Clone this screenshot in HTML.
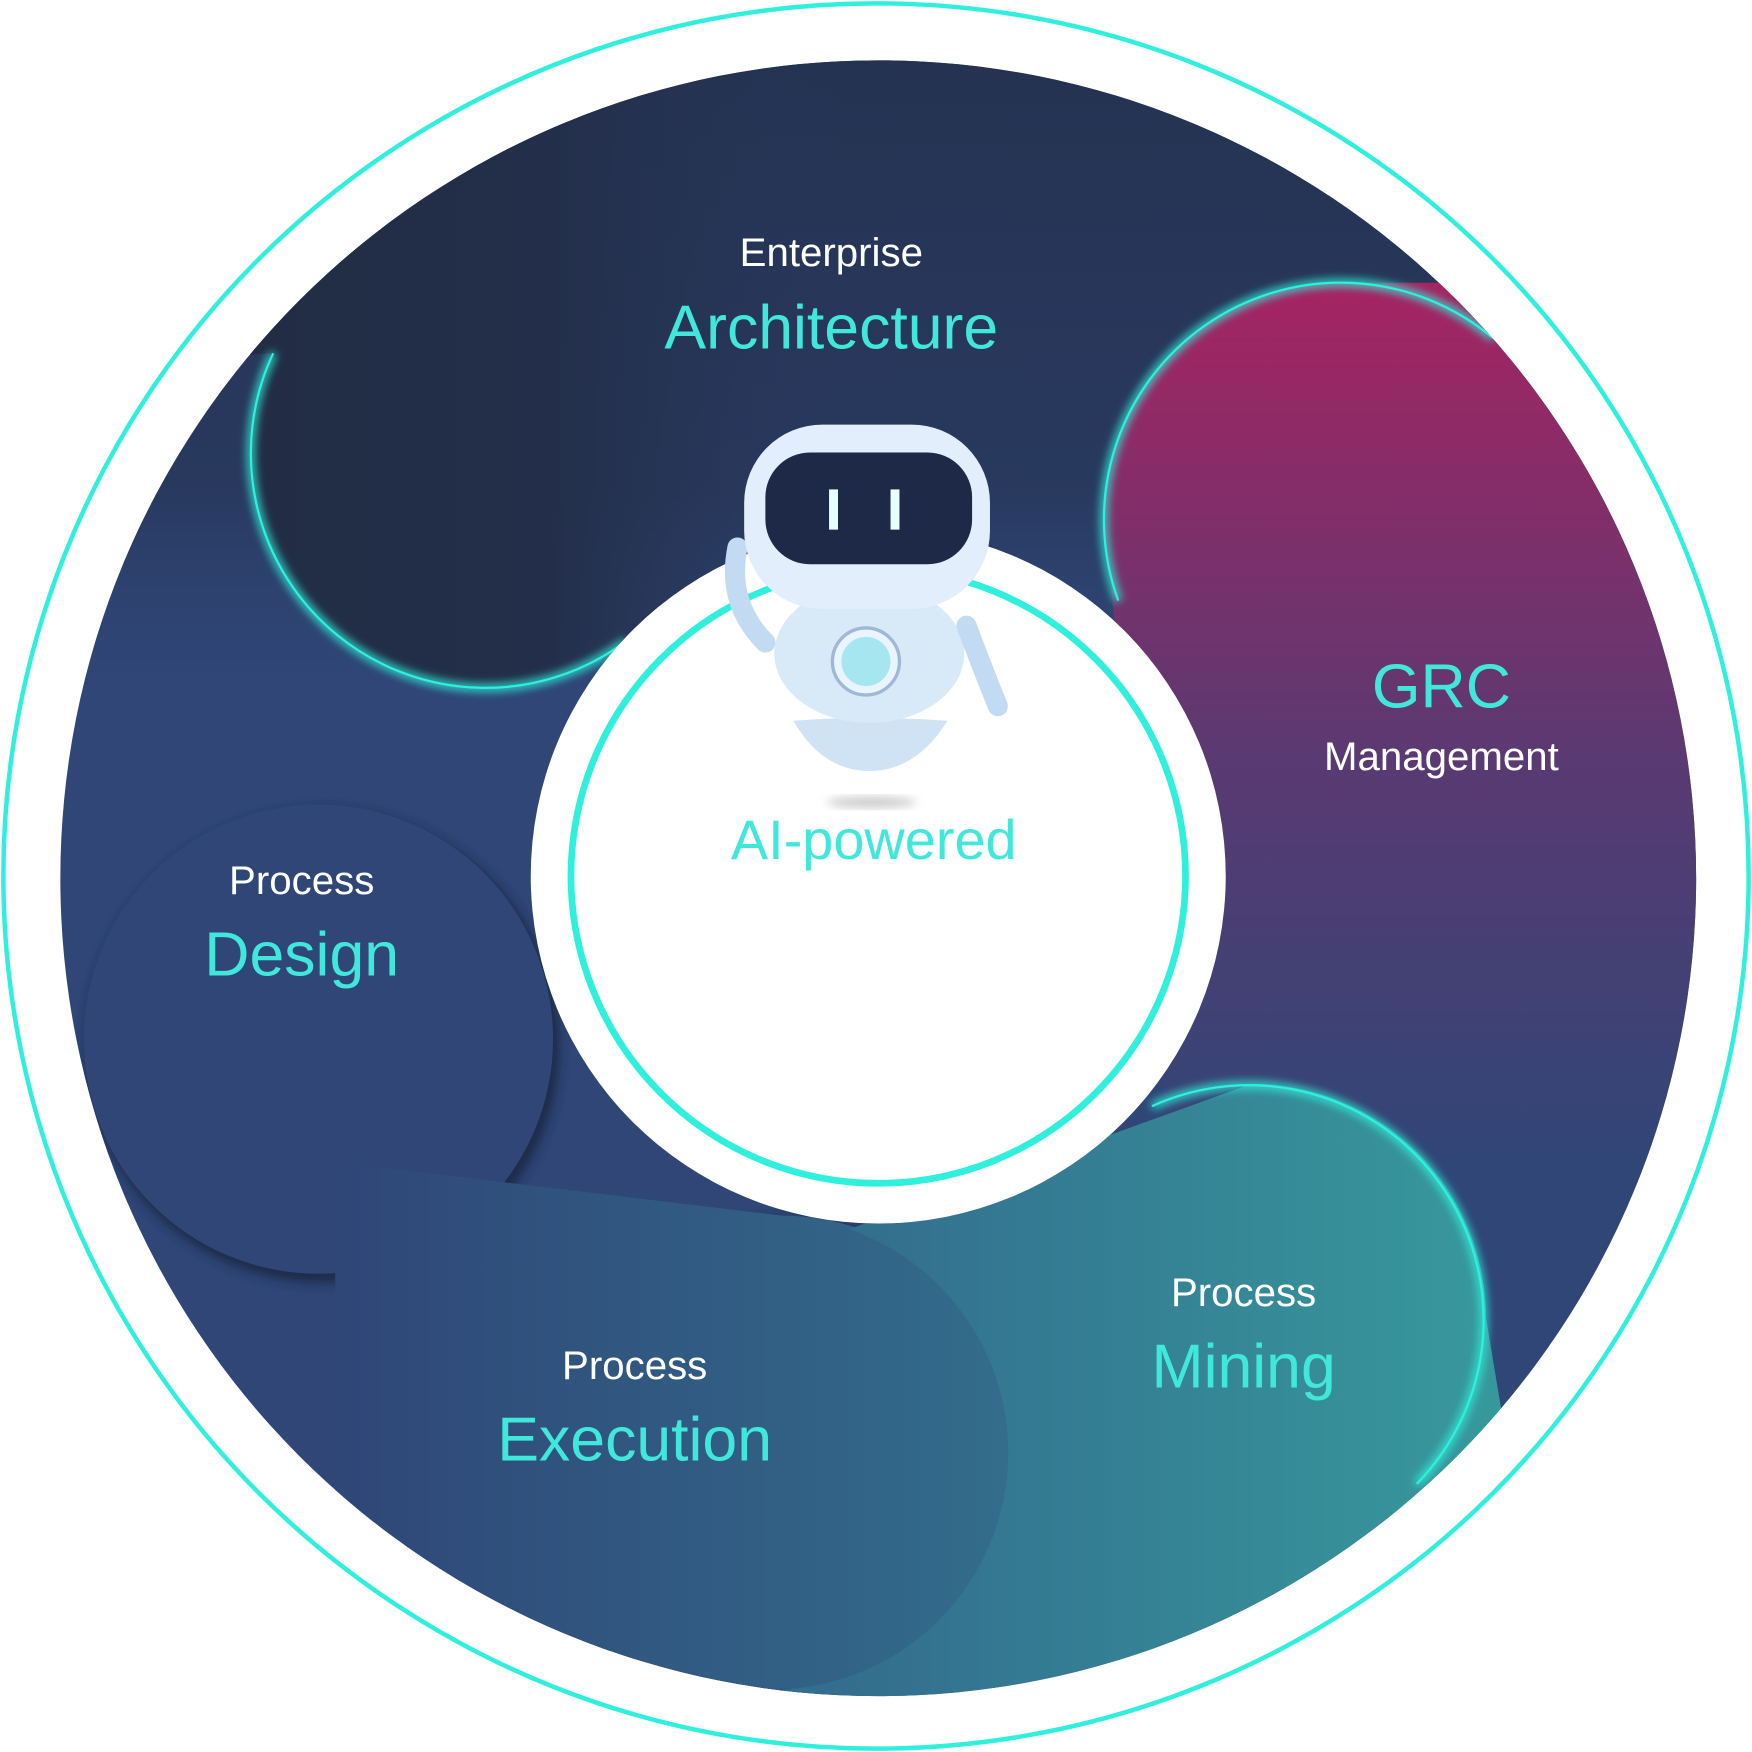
<!DOCTYPE html>
<html><head><meta charset="utf-8"><style>
html,body{margin:0;padding:0;background:#fff;}
svg{display:block;}
text{font-family:"Liberation Sans","DejaVu Sans",sans-serif;text-anchor:middle;}
</style></head><body>
<svg width="1752" height="1752" viewBox="0 0 1568 1568" xmlns="http://www.w3.org/2000/svg">
<defs>
<clipPath id="disc"><circle cx="786" cy="786" r="732"/></clipPath>
<linearGradient id="topfade" x1="0" y1="0" x2="0" y2="1">
<stop offset="0" stop-color="#243150" stop-opacity="1"/><stop offset="0.28" stop-color="#28385c" stop-opacity="0.9"/><stop offset="0.42" stop-color="#2f4677" stop-opacity="0"/></linearGradient>
<linearGradient id="arch" gradientUnits="userSpaceOnUse" x1="100" y1="0" x2="760" y2="0">
<stop offset="0" stop-color="#212b42"/><stop offset="0.6" stop-color="#232f4a"/><stop offset="1" stop-color="#27365a" stop-opacity="0"/></linearGradient>
<linearGradient id="grc" gradientUnits="userSpaceOnUse" x1="0" y1="255" x2="0" y2="1050">
<stop offset="0" stop-color="#a52462"/><stop offset="0.55" stop-color="#583a72"/><stop offset="1" stop-color="#2f4677"/></linearGradient>
<linearGradient id="exe" gradientUnits="userSpaceOnUse" x1="300" y1="0" x2="910" y2="0">
<stop offset="0" stop-color="#2f4677"/><stop offset="1" stop-color="#336d8c"/></linearGradient>
<linearGradient id="min" gradientUnits="userSpaceOnUse" x1="760" y1="0" x2="1330" y2="0">
<stop offset="0" stop-color="#336e8e"/><stop offset="1" stop-color="#37989c"/></linearGradient>
<filter id="glow" x="-20%" y="-20%" width="140%" height="140%"><feGaussianBlur stdDeviation="4"/></filter>
<filter id="sh" x="-20%" y="-20%" width="140%" height="140%"><feGaussianBlur stdDeviation="5"/></filter>
</defs>
<circle cx="784" cy="784" r="781" fill="#fff" stroke="#2ef0dc" stroke-width="4"/>
<g clip-path="url(#disc)">
<rect x="0" y="0" width="1568" height="1568" fill="#2f4677"/>
<rect x="0" y="0" width="1568" height="1568" fill="url(#topfade)"/>
<!-- architecture -->
<path d="M0,0 L0,330 L244.5,316.2 A210,210 0 0 0 560,574 L760,420 L760,0 Z" fill="url(#arch)"/>
<path d="M244.5,316.2 A210,210 0 0 0 560,574" fill="none" stroke="#2ef0dc" stroke-width="6" filter="url(#glow)"/>
<path d="M244.5,316.2 A210,210 0 0 0 560,574" fill="none" stroke="#2ef0dc" stroke-width="2"/>
<!-- design -->
<circle cx="289" cy="936" r="212" fill="#1f2b48" filter="url(#sh)"/>
<circle cx="285" cy="930" r="210" fill="#2f4677"/>
<!-- GRC -->
<path d="M988,465 A212,212 0 0 1 1200,253 L1600,253 L1600,1060 L1050,1060 Z" fill="url(#grc)"/>
<path d="M1000.8,537.5 A212,212 0 0 1 1336.3,302.6" fill="none" stroke="#2ef0dc" stroke-width="6" filter="url(#glow)"/>
<path d="M1000.8,537.5 A212,212 0 0 1 1336.3,302.6" fill="none" stroke="#2ef0dc" stroke-width="2"/>
<!-- execution -->
<circle cx="704" cy="1304" r="214" fill="#1f2c48" filter="url(#sh)"/>
<path d="M300,1040 L700,1088 A212,212 0 0 1 700,1512 L300,1600 Z" fill="url(#exe)"/>
<!-- mining -->
<path d="M1120,970 A210,210 0 0 1 1330,1180 L1400,1600 L700,1600 L700,1512 A212,212 0 0 0 760,1100 Z" fill="url(#min)"/>
<path d="M1031,990 A210,210 0 0 1 1268,1328" fill="none" stroke="#2ef0dc" stroke-width="6" filter="url(#glow)"/>
<path d="M1031,990 A210,210 0 0 1 1268,1328" fill="none" stroke="#2ef0dc" stroke-width="2"/>
</g>
<!-- center -->
<circle cx="786" cy="784" r="311" fill="#fff"/>
<circle cx="786" cy="784" r="275" fill="none" stroke="#2ef0dc" stroke-width="6"/>
<!-- robot -->
<ellipse cx="780" cy="718" rx="40" ry="5" fill="#ccc" filter="url(#glow)"/>
<path d="M710,645 Q778,640 848,645 Q820,690 778,690 Q736,690 710,645 Z" fill="#cfe3f5"/>
<ellipse cx="778" cy="585" rx="85" ry="62" fill="#d8e9f8"/>
<path d="M660,490 Q650,540 685,575" stroke="#c2dbf2" stroke-width="18" fill="none" stroke-linecap="round"/>
<path d="M865,560 Q880,600 893,632" stroke="#c2dbf2" stroke-width="18" fill="none" stroke-linecap="round"/>
<circle cx="775" cy="592" r="30" fill="#eaf4ff" stroke="#9fb8d6" stroke-width="3"/>
<circle cx="775" cy="592" r="22" fill="#a6e6f0"/>
<rect x="666" y="380" width="220" height="165" rx="70" fill="#e2eefb"/>
<rect x="685" y="405" width="185" height="100" rx="40" fill="#1d2946"/>
<rect x="742" y="438" width="8" height="36" fill="#e8ffff"/>
<rect x="797" y="438" width="8" height="36" fill="#e8ffff"/>
<!-- texts -->
<g fill="#fff" font-size="36">
<text x="744" y="238">Enterprise</text>
<text x="1290" y="689">Management</text>
<text x="270" y="800">Process</text>
<text x="568" y="1234">Process</text>
<text x="1113" y="1169">Process</text>
</g>
<g fill="#40e8dc" font-size="56">
<text x="744" y="312">Architecture</text>
<text x="1290" y="633">GRC</text>
<text x="270" y="873">Design</text>
<text x="568" y="1307">Execution</text>
<text x="1113" y="1242">Mining</text>
<text x="782" y="769" font-size="50">AI-powered</text>
</g>
</svg>
</body></html>
